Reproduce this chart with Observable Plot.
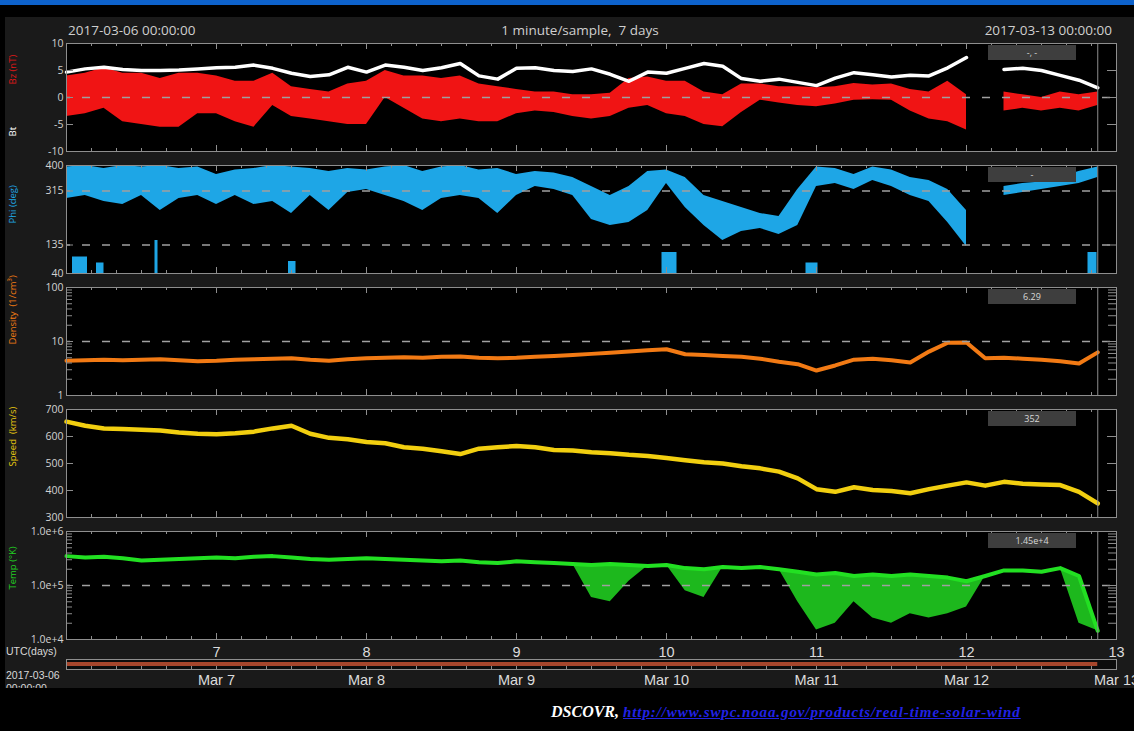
<!DOCTYPE html>
<html>
<head>
<meta charset="utf-8">
<script src="https://cdn.jsdelivr.net/npm/d3@7"></script>
<script src="https://cdn.jsdelivr.net/npm/@observablehq/plot@0.6"></script>
<style>
  html, body { margin: 0; padding: 0; background: #000; }
  #page { position: relative; width: 1134px; height: 731px; overflow: hidden; background: #000; font-family: "Open Sans", sans-serif; }
  #topbar { position: absolute; left: 0; top: 0; width: 1134px; height: 5px; background: #0d62cc; }
  #bg { position: absolute; left: 5px; top: 17px; right: 0; height: 671px; background: #1a1a1a; }
  .hdr { position: absolute; top: 21px; font-size: 13.5px; color: #cfcfcf; white-space: nowrap; }
  .panel { position: absolute; left: 0; }
  .valbox { position: absolute; left: 988px; width: 88px; height: 15px; background: #3e3e3e; color: #d8d8d8; font-size: 9px; line-height: 15px; text-align: center; }
  #utc { position: absolute; left: 5px; top: 640px; width: 60px; height: 48px; overflow: hidden; color: #d8d8d8; font-size: 10.5px; line-height: 1; font-family: "Liberation Sans", sans-serif; }
  #utc div { position: absolute; left: 1px; white-space: nowrap; }
  #caption { position: absolute; top: 703px; left: 551px; font-family: "Liberation Serif", serif; font-style: italic; font-weight: bold; white-space: nowrap; }
  #caption .name { color: #fff; font-size: 16px; }
  #caption a { color: #2222e6; font-size: 15px; letter-spacing: 0.9px; text-decoration: underline; }
</style>
</head>
<body>
<div id="page">
  <div id="topbar"></div>
  <div id="bg"></div>
  <div class="hdr" style="left:68px">2017-03-06 00:00:00</div>
  <div class="hdr" style="left:0;width:1160px;text-align:center">1 minute/sample,&nbsp; 7 days</div>
  <div class="hdr" style="right:22px">2017-03-13 00:00:00</div>
  <div id="utc">
    <div style="top:6px">UTC(days)</div>
    <div style="top:30px">2017-03-06</div>
    <div style="top:43px">00:00:00</div>
  </div>
  <div id="caption"><span class="name">DSCOVR, </span><a href="http://www.swpc.noaa.gov/products/real-time-solar-wind">http://www.swpc.noaa.gov/products/real-time-solar-wind</a></div>
</div>
<script>
// ---- Solar wind readings, 3-hourly from 2017-03-06 00:00 UTC (day-of-month units) ----
const bt = [4.7,5.3,5.6,5.2,5.0,5.0,5.1,5.3, 5.5,5.6,6.0,5.4,4.5,3.9,4.2,5.6,
            4.7,6.0,5.6,5.0,5.5,6.3,4.0,3.4, 5.4,5.5,5.0,4.8,5.3,4.3,3.0,4.7,
            4.5,5.4,6.3,5.8,3.5,3.0,3.4,2.8, 2.2,3.6,4.6,4.2,3.8,4.1,4.0,5.5,
            7.4,null,5.2,5.4,5.0,4.1,3.2,1.8];
const bzHi = [4,4.5,5.5,4.5,4.5,3.5,4.5,4.5, 4,3,3,4.5,2,1.5,1,2.5,
              3,5,4,4,3.5,4,2.5,2, 1.5,1,1,0.5,0.5,0.8,3.5,3.8,
              3,3,1,0.5,2.5,2.5,2,2, 1.8,2,2.6,2.3,2.5,1.5,1,3,
              0.5,null,1,0.5,0,1,0.5,1];
const bzLo = [-3.5,-3,-2,-4.5,-5,-5.5,-5.5,-3, -3,-4.5,-5.5,-1.5,-3.5,-4,-4.5,-5,
              -5,0,-2,-4,-4.5,-4,-4.5,-4.5, -3,-2.5,-2.8,-3.5,-4,-3.5,-2,-1.5,
              -3,-3.5,-5,-5.4,-2.8,-0.5,-1,-1.5, -1.7,-1.2,-0.5,-0.4,-0.5,-2.5,-4,-4.5,
              -6,null,-2.5,-2,-2.5,-2,-2.5,-1.5];
const phiHi = [395,400,390,400,395,400,390,395, 370,385,390,400,395,390,380,390,
               385,395,400,380,395,400,385,390, 370,380,375,360,330,300,330,380,
               385,360,300,280,260,240,230,320, 395,390,370,395,385,360,350,320,
               250,null,330,340,345,360,380,395];
const phiLo = [290,300,280,270,300,250,290,300, 270,300,270,280,240,300,250,310,
               320,300,280,250,290,300,290,240, 300,330,320,300,220,200,210,250,
               340,260,200,150,180,190,170,200, 330,340,320,350,330,300,280,210,
               130,null,300,310,320,330,340,360];
// Phi readings wrapped to the bottom of the range
const phiWrapStart = [6.04, 6.20, 6.59, 7.48, 9.97, 10.93, 12.81];
const phiWrapEnd   = [6.14, 6.25, 6.61, 7.53, 10.07, 11.01, 12.87];
const phiWrapLo    = [40, 40, 40, 40, 40, 40, 40];
const phiWrapHi    = [95, 75, 150, 80, 110, 75, 110];
const density = [4.4,4.5,4.6,4.5,4.6,4.7,4.5,4.3, 4.4,4.6,4.7,4.8,4.9,4.6,4.4,4.7,
                 4.9,5.0,5.1,5.0,5.2,5.3,5.0,4.9, 5.0,5.2,5.4,5.6,5.9,6.2,6.5,6.9,
                 7.2,5.8,5.6,5.4,5.2,4.8,4.2,3.8, 2.9,3.6,4.6,4.8,4.5,4.1,6.5,9.5,
                 9.6,4.9,5.0,4.8,4.6,4.3,3.9,6.29];
const speed = [655,640,630,628,625,622,615,610, 608,612,618,630,640,610,595,590,
               580,575,560,555,545,535,555,560, 565,560,550,548,542,538,532,528,
               520,512,505,500,490,482,470,445, 405,395,412,402,398,390,405,418,
               430,418,432,425,422,420,395,352];
const temp = [3.5e5,3.3e5,3.4e5,3.2e5,2.9e5,3.0e5,3.1e5,3.2e5, 3.3e5,3.2e5,3.4e5,3.5e5,3.3e5,3.1e5,3.0e5,3.1e5,
              3.2e5,3.1e5,3.0e5,2.9e5,2.8e5,2.9e5,2.7e5,2.6e5, 2.8e5,2.7e5,2.6e5,2.5e5,2.4e5,2.5e5,2.4e5,2.3e5,
              2.4e5,2.1e5,2.0e5,2.2e5,2.1e5,2.2e5,2.0e5,1.8e5, 1.6e5,1.7e5,1.5e5,1.6e5,1.5e5,1.6e5,1.5e5,1.4e5,
              1.2e5,1.5e5,1.9e5,1.9e5,1.8e5,2.1e5,1.5e5,1.45e4];
// lowest scattered temperature readings in each interval
const tempLo = [3.5e5,3.3e5,3.4e5,3.2e5,2.9e5,3.0e5,3.1e5,3.2e5, 3.3e5,3.2e5,3.4e5,3.5e5,3.3e5,3.1e5,3.0e5,3.1e5,
                3.2e5,3.1e5,3.0e5,2.9e5,2.8e5,2.9e5,2.7e5,2.6e5, 2.8e5,2.7e5,2.6e5,2.5e5,6e4,5e4,1.2e5,2.3e5,
                2.4e5,8e4,6e4,2.2e5,2.1e5,2.2e5,2.0e5,5e4, 1.5e4,2e4,5e4,2.5e4,2e4,3e4,2.5e4,3e4,
                4e4,1.5e5,1.9e5,1.9e5,1.8e5,2.1e5,2e4,1.45e4];

const dayTicks = [7, 8, 9, 10, 11, 12, 13];
const densityTicks = [1, 10, 100];
const tempTicks = [1e4, 1e5, 1e6];

// sampling grid: every 3 hours
const t = d3.range(bt.length).map(i => 6 + i * 0.125);
const rows = t.map((d, i) => ({
  t: d, bt: bt[i], bzHi: bzHi[i], bzLo: bzLo[i], phiHi: phiHi[i], phiLo: phiLo[i],
  density: density[i], speed: speed[i], temp: temp[i], tempLo: tempLo[i]
}));
const phiWrap = phiWrapStart.map((s, i) => ({s, e: phiWrapEnd[i], lo: phiWrapLo[i], hi: phiWrapHi[i]}));
const dataEnd = t[t.length - 1];

// ---- layout ----
const W = 1134, ML = 66, MR = 18, PH = 108, MT = 10, MB = 10;
const PW = W - ML - MR;
const FRAME = "#8e8e8e";
const hourTicks = d3.range(0, 43).map(k => 6 + k / 6);   // every 4 h
const page = document.getElementById("page");

function minorLog(lo, hi) {
  const out = [];
  for (let dec = lo; dec < hi; dec *= 10) for (let k = 2; k <= 9; k++) out.push(dec * k);
  return out;
}

function panel(top, cfg) {
  const marks = [
    Plot.frame({fill: "#000"}),
    ...cfg.marks,
    ...(cfg.dashed || []).map(v => Plot.ruleY([v], {stroke: "#a0a0a0", strokeWidth: 1.4, strokeDasharray: "8,12", strokeDashoffset: 4})),
    Plot.ruleX([dataEnd], {stroke: FRAME}),
    Plot.ruleX(hourTicks, {insetBottom: PH - 3, stroke: FRAME}),
    Plot.ruleX(hourTicks, {insetTop: PH - 3, stroke: FRAME}),
    Plot.ruleX(dayTicks, {insetBottom: PH - 6, stroke: FRAME}),
    Plot.ruleX(dayTicks, {insetTop: PH - 6, stroke: FRAME}),
    Plot.ruleY(cfg.ticks, {insetRight: PW - 7, stroke: FRAME}),
    Plot.ruleY(cfg.ticks, {insetLeft: PW - 9, stroke: FRAME}),
    ...(cfg.minor ? [
      Plot.ruleY(cfg.minor, {insetRight: PW - 6, stroke: FRAME}),
      Plot.ruleY(cfg.minor, {insetLeft: PW - 8, stroke: FRAME})
    ] : []),
    Plot.axisY({ticks: cfg.ticks, tickSize: 0, tickPadding: 3, tickFormat: cfg.format, label: null}),
    ...cfg.labels.map(l => Plot.text([l.text], {
      frameAnchor: "left", dx: -54, dy: l.dy, rotate: -90, fill: l.color, fontSize: 9.5
    })),
    Plot.frame({stroke: FRAME})
  ];
  const svg = Plot.plot({
    width: W, height: PH + MT + MB,
    marginLeft: ML, marginRight: MR, marginTop: MT, marginBottom: MB,
    style: {background: "transparent", color: "#d2d2d2", fontFamily: "Open Sans, sans-serif", fontSize: "10.5px", overflow: "visible"},
    x: {domain: [6, 13], axis: null},
    y: {type: cfg.type || "linear", domain: cfg.domain, axis: null},
    marks
  });
  svg.classList.add("panel");
  svg.style.top = (top - MT) + "px";
  page.appendChild(svg);
  if (cfg.box != null) {
    const box = document.createElement("div");
    box.className = "valbox";
    box.style.top = (top + 2) + "px";
    box.textContent = cfg.box;
    page.appendChild(box);
  }
}

// Bt / Bz
panel(43, {
  domain: [-10, 10], ticks: [-10, -5, 0, 5, 10], format: d => String(d), dashed: [0],
  marks: [
    Plot.areaY(rows, {x: "t", y1: "bzLo", y2: "bzHi", fill: "#f01414"}),
    Plot.lineY(rows, {x: "t", y: "bt", stroke: "#ffffff", strokeWidth: 3.5})
  ],
  labels: [{text: "Bz (nT)", color: "#e01818", dy: -13}, {text: "Bt", color: "#ffffff", dy: 39}],
  box: "-, -"
});

// Phi
panel(165, {
  domain: [40, 400], ticks: [40, 135, 315, 400], format: d => String(d), dashed: [135, 315],
  marks: [
    Plot.areaY(rows, {x: "t", y1: "phiLo", y2: "phiHi", fill: "#1ea6e6"}),
    Plot.rect(phiWrap, {x1: "s", x2: "e", y1: "lo", y2: "hi", fill: "#1ea6e6"})
  ],
  labels: [{text: "Phi (deg)", color: "#1ea6e6", dy: 4}],
  box: "-"
});

// Density
panel(287, {
  type: "log", domain: [1, 100], ticks: densityTicks, minor: minorLog(1, 100),
  format: d => String(d), dashed: [10],
  marks: [
    Plot.lineY(rows, {x: "t", y: "density", stroke: "#f27a14", strokeWidth: 4})
  ],
  labels: [{text: "Density  (1/cm³)", color: "#f27a14", dy: 3}],
  box: density[density.length - 1].toFixed(2)
});

// Speed
panel(409, {
  domain: [300, 700], ticks: [300, 400, 500, 600, 700], format: d => String(d),
  marks: [
    Plot.lineY(rows, {x: "t", y: "speed", stroke: "#f2cf10", strokeWidth: 4.5})
  ],
  labels: [{text: "Speed  (km/s)", color: "#e8c810", dy: 3}],
  box: String(speed[speed.length - 1])
});

// Temperature
panel(531, {
  type: "log", domain: [1e4, 1e6], ticks: tempTicks, minor: minorLog(1e4, 1e6),
  format: d => d.toExponential(1), dashed: [1e5],
  marks: [
    Plot.areaY(rows, {x: "t", y1: "tempLo", y2: "temp", fill: "#22d822", fillOpacity: 0.85}),
    Plot.lineY(rows, {x: "t", y: "temp", stroke: "#22e022", strokeWidth: 4})
  ],
  labels: [{text: "Temp (°K)", color: "#22d022", dy: 4}],
  box: temp[temp.length - 1].toExponential(2).replace(/0+e/, "e")
});

// Time axis with data-coverage bar
const timeBar = [{start: 6, end: dataEnd}];
const axisSvg = Plot.plot({
  width: W, height: 58, marginLeft: ML, marginRight: MR, marginTop: 22, marginBottom: 26,
  style: {background: "transparent", color: "#dcdcdc", fontFamily: "Liberation Sans, sans-serif", fontSize: "14.5px", overflow: "visible"},
  x: {domain: [6, 13], axis: null},
  y: {domain: [0, 1], axis: null},
  marks: [
    Plot.frame({fill: "#0c0c0c"}),
    Plot.ruleY(timeBar, {x1: "start", x2: "end", y: () => 0.55, stroke: "#a6462c", strokeWidth: 4}),
    Plot.ruleX(hourTicks, {insetTop: 7, stroke: FRAME}),
    Plot.frame({stroke: FRAME}),
    Plot.axisX({anchor: "top", ticks: dayTicks, tickSize: 0, tickPadding: 3, tickFormat: d => String(d)}),
    Plot.axisX({anchor: "bottom", ticks: dayTicks, tickSize: 0, tickPadding: 5, tickFormat: d => "Mar " + d})
  ]
});
axisSvg.classList.add("panel");
axisSvg.style.top = (659 - 22) + "px";
page.appendChild(axisSvg);
</script>
</body>
</html>
